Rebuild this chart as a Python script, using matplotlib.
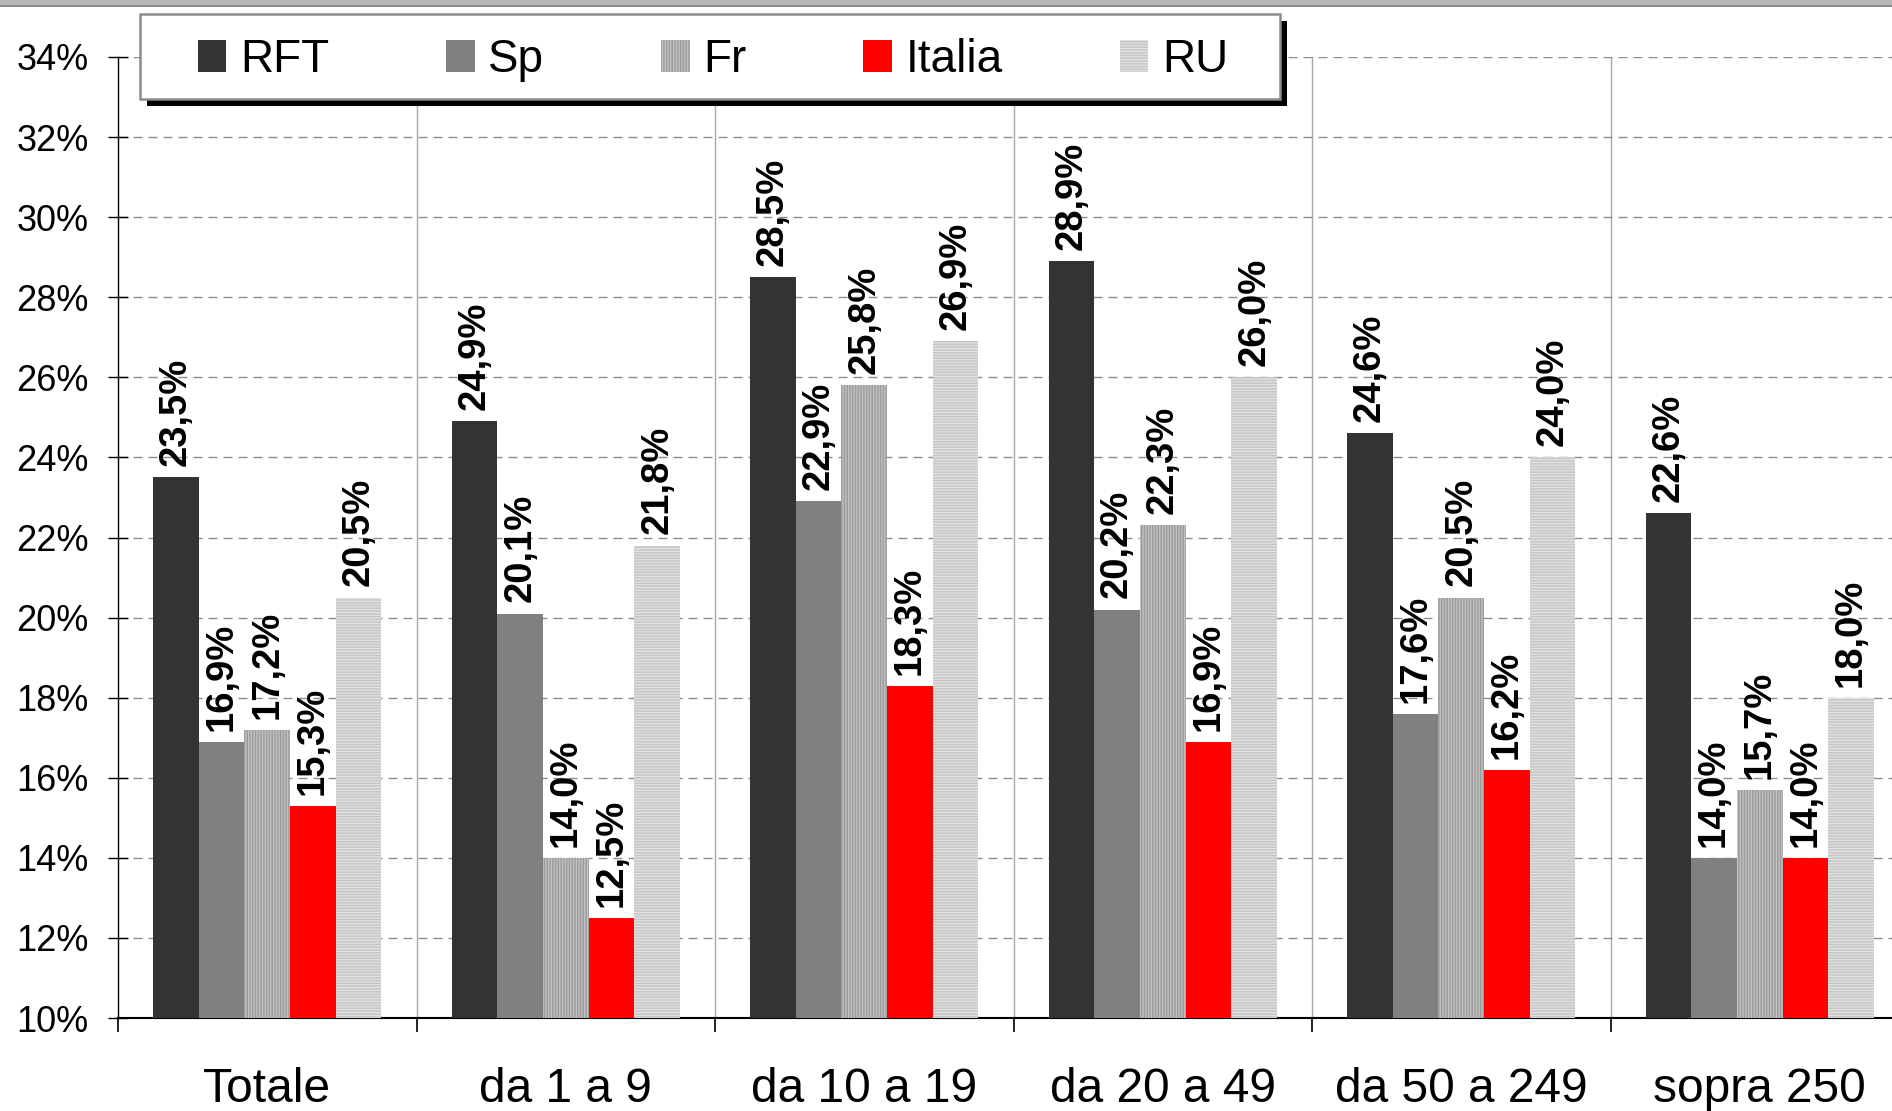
import numpy as np
import matplotlib
matplotlib.use("Agg")
import matplotlib.pyplot as plt
from matplotlib.patches import Rectangle
from matplotlib.ticker import FixedLocator, FuncFormatter

plt.rcParams['font.family'] = ['Liberation Sans', 'DejaVu Sans']
plt.rcParams['hatch.linewidth'] = 0.9

# share of firms, by size class
classes = ["Totale", "da 1 a 9", "da 10 a 19", "da 20 a 49", "da 50 a 249", "sopra 250"]
countries = ["RFT", "Sp", "Fr", "Italia", "RU"]
rft = [23.5, 24.9, 28.5, 28.9, 24.6, 22.6]
sp = [16.9, 20.1, 22.9, 20.2, 17.6, 14.0]
fr = [17.2, 14.0, 25.8, 22.3, 20.5, 15.7]
italia = [15.3, 12.5, 18.3, 16.9, 16.2, 14.0]
ru = [20.5, 21.8, 26.9, 26.0, 24.0, 18.0]
series = [rft, sp, fr, italia, ru]

styles = [
    dict(color="#333333"),
    dict(color="#808080"),
    dict(facecolor="#9c9c9c", edgecolor="#c4c4c4", hatch="||||||", linewidth=0),
    dict(color="#ff0000"),
    dict(facecolor="#c6c6c6", edgecolor="#e2e2e2", hatch="------", linewidth=0),
]

fig = plt.figure(figsize=(18.92, 11.11), dpi=100)
ax = fig.add_axes([0.0624, 0.0837, 0.9466, 0.8650])

x = np.arange(len(classes)) + 0.5
w = 0.153
bars = []
for i, (vals, name, st) in enumerate(zip(series, countries, styles)):
    pos = x + (i - 2) * w
    b = ax.bar(pos, vals, w, label=name, zorder=3, **st)
    bars.append(b)
    for px, v in zip(pos, vals):
        ax.annotate(f"{v:.1f}%".replace(".", ","), (px, v), xytext=(0, 8),
                    textcoords="offset points", rotation=90, ha="center",
                    va="bottom", fontsize=27.5, fontweight="bold", zorder=4)

ax.set_xlim(0, len(classes))
ax.set_ylim(10, 34)
ax.set_yticks(np.arange(10, 35, 2))
ax.yaxis.set_major_formatter(FuncFormatter(lambda v, p: f"{v:.0f}%"))
ax.tick_params(axis="y", labelsize=26, direction="inout", length=13.7,
               width=1, pad=14.5)

ax.set_xticks(x)
ax.set_xticklabels(classes)
ax.xaxis.set_minor_locator(FixedLocator(np.arange(0, len(classes) + 1)))
ax.tick_params(axis="x", which="major", length=0, labelsize=34.5, pad=35)
ax.tick_params(axis="x", which="minor", length=10, width=1.2, direction="out")

ax.grid(axis="y", color="#8e8e8e", linestyle=(0, (6.5, 4.3)), linewidth=1.0, zorder=0)
for b in range(1, len(classes)):
    ax.axvline(b, color="#a8a8a8", linewidth=1.0, zorder=0)

for s in ["top", "right"]:
    ax.spines[s].set_visible(False)
ax.spines["bottom"].set_linewidth(1.5)
ax.spines["left"].set_linewidth(1.0)

# header strip
fig.patches.append(Rectangle((0, 1 - 7 / 1111), 1, 7 / 1111, transform=fig.transFigure,
                             facecolor="#b8b8b8", edgecolor="none"))
fig.patches.append(Rectangle((0, 1 - 7 / 1111), 1, 2 / 1111, transform=fig.transFigure,
                             facecolor="#8c8c8c", edgecolor="none"))

# legend box with drop shadow
W, H = 1892.0, 1111.0
bx0, bx1, by0, by1 = 140, 1280, 14, 99
fig.patches.append(Rectangle((bx0 / W + 7 / W, 1 - by1 / H - 7 / H), (bx1 - bx0) / W,
                             (by1 - by0) / H, transform=fig.transFigure,
                             facecolor="black", edgecolor="none", zorder=5))
fig.patches.append(Rectangle((bx0 / W, 1 - by1 / H), (bx1 - bx0) / W, (by1 - by0) / H,
                             transform=fig.transFigure, facecolor="white",
                             edgecolor="#8c8c8c", linewidth=1.8, zorder=6))
leg = fig.legend(handles=bars, labels=countries, ncol=5, loc="center",
                 bbox_to_anchor=(713 / W, 1 - 60 / H), frameon=False, fontsize=33,
                 handlelength=0.62, handleheight=0.7, handletextpad=0.3,
                 columnspacing=2.55, borderpad=0)
leg.set_zorder(7)

fig.savefig("out.png", dpi=100)
